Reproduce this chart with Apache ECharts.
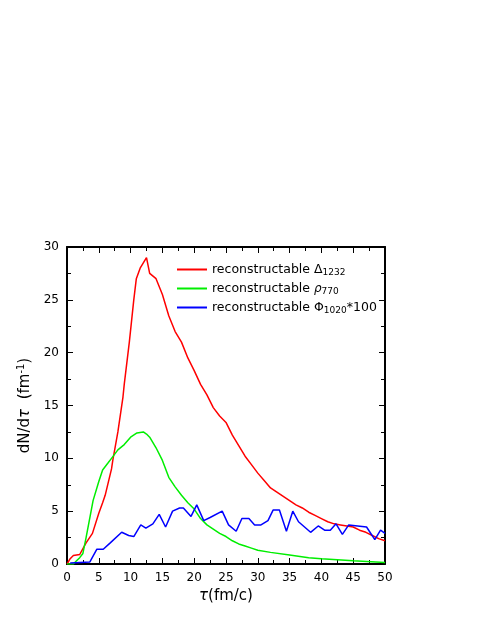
<!DOCTYPE html><html><head><meta charset="utf-8"><script src="https://cdn.jsdelivr.net/npm/echarts@6/dist/echarts.min.js"></script></head><body style="margin:0"><div id="c" style="width:488px;height:632px"></div><script>
const deltaX=[0,0.5,1,2,3,4,5,5.6,6,7,7.2,8,8.8,9,9.8,10.5,10.9,11.5,12,12.5,13,14,15,16,17,18,19,20,21,22,23,24,25,26,27,28,29,30,31,32,33,34,35,36,37,38,39,40,41,42,43,44,45,46,47,48,49,50];
const deltaY=[0,0.5,0.8,0.9,2,2.9,4.8,5.8,6.5,9,9.8,12.5,15.8,17,21,25,27,28,28.5,29,27.5,27,25.5,23.5,22,21,19.5,18.3,17,16,14.8,14,13.4,12.2,11.2,10.2,9.4,8.6,7.9,7.2,6.8,6.4,6.0,5.6,5.3,4.9,4.6,4.3,4.0,3.8,3.7,3.6,3.5,3.2,3.0,2.7,2.4,2.2];
const rhoX=[0,1,1.5,2,2.5,3,4.1,5,5.6,6.5,7,8,9,10,11,12,12.5,13,14,15,16,17,18,19,20,21,22,23,24,25,26,27,28,29,30,32,35,38,40,45,50];
const rhoY=[0,0,0.3,0.6,1,2.5,6,7.8,8.9,9.6,10,10.8,11.3,12,12.4,12.5,12.3,12,11,9.8,8.2,7.3,6.5,5.8,5.2,4.3,3.7,3.3,2.9,2.6,2.2,1.9,1.7,1.5,1.3,1.1,0.85,0.6,0.5,0.3,0.15];
const phiX=[0.5,3.6,4.7,5.7,6.8,8.6,9.7,10.5,11.6,12.4,13.5,14.5,15.5,16.6,17.7,18.3,19.5,20.4,21.5,22.5,24.4,25.4,26.6,27.5,28.6,29.5,30.5,31.6,32.4,33.4,34.5,35.5,36.4,38.3,39.5,40.5,41.4,42.3,43.3,44.3,47.1,48.4,49.3,50];
const phiY=[0.1,0.2,1.4,1.4,2.0,3.0,2.7,2.6,3.7,3.4,3.8,4.7,3.5,5.0,5.3,5.3,4.5,5.6,4.1,4.4,5.0,3.7,3.1,4.3,4.3,3.7,3.7,4.1,5.1,5.1,3.1,5.0,4.0,3.0,3.6,3.2,3.2,3.8,2.8,3.7,3.5,2.3,3.2,2.9];
const xTicks=[0,5,10,15,20,25,30,35,40,45,50];
const yTicks=[0,5,10,15,20,25,30];
const z=(a,b)=>a.map((v,i)=>[v,b[i]]);
const F='DejaVu Sans';
const rich={s:{fontSize:9,fontFamily:F,verticalAlign:'bottom',padding:[6,0,0,0]},n:{fontSize:12,fontFamily:F},g:{fontSize:12,fontFamily:F,fontStyle:'italic'}};
const ax=(show)=>({min:0,type:'value',axisLine:{show:true,onZero:false,lineStyle:{color:'#000',width:2}},axisTick:{show:true,inside:true,length:6,lineStyle:{color:'#000'}},minorTick:{show:true,splitNumber:2,length:4,lineStyle:{color:'#000'}},splitLine:{show:false},axisLabel:{show:show,color:'#000',fontFamily:F,fontSize:12}});
const chart=echarts.init(document.getElementById('c'));
chart.setOption({
 animation:false,
 grid:{left:67,right:103,top:247,bottom:68},
 legend:{top:258,left:172,orient:'vertical',itemWidth:30,itemHeight:2,itemGap:5,icon:'rect',textStyle:{color:'#000',fontFamily:F,fontSize:12.5,rich:rich},
  formatter:n=>({d:'reconstructable Δ{s|1232}',r:'reconstructable {g|ρ}{s|770}',p:'reconstructable Φ{s|1020}*100'})[n]},
 xAxis:[Object.assign(ax(true),{max:50,interval:5,name:'{g|τ}(fm/c)',nameLocation:'middle',nameGap:20,nameTextStyle:{fontSize:15,fontFamily:F,color:'#000',rich:{g:{fontSize:15,fontStyle:'italic',fontFamily:F}}}}),
   Object.assign(ax(false),{max:50,interval:5,position:'top'})],
 yAxis:[Object.assign(ax(true),{max:30,interval:5,name:'dN/d{g|τ}  (fm{sp|-1})',nameLocation:'middle',nameGap:30,nameRotate:90,nameTextStyle:{fontSize:15,fontFamily:F,color:'#000',rich:{g:{fontSize:15,fontStyle:'italic',fontFamily:F},sp:{fontSize:10,fontFamily:F,verticalAlign:'top',padding:[0,0,8,0]}}}}),
   Object.assign(ax(false),{max:30,interval:5,position:'right'})],
 series:[
  {name:'d',type:'line',data:z(deltaX,deltaY),showSymbol:false,lineStyle:{color:'#ff0000',width:1.5},itemStyle:{color:'#ff0000'}},
  {name:'r',type:'line',data:z(rhoX,rhoY),showSymbol:false,lineStyle:{color:'#00ee00',width:1.5},itemStyle:{color:'#00ee00'}},
  {name:'p',type:'line',data:z(phiX,phiY),showSymbol:false,lineStyle:{color:'#0000ff',width:1.5},itemStyle:{color:'#0000ff'}}
 ]
});
</script></body></html>
